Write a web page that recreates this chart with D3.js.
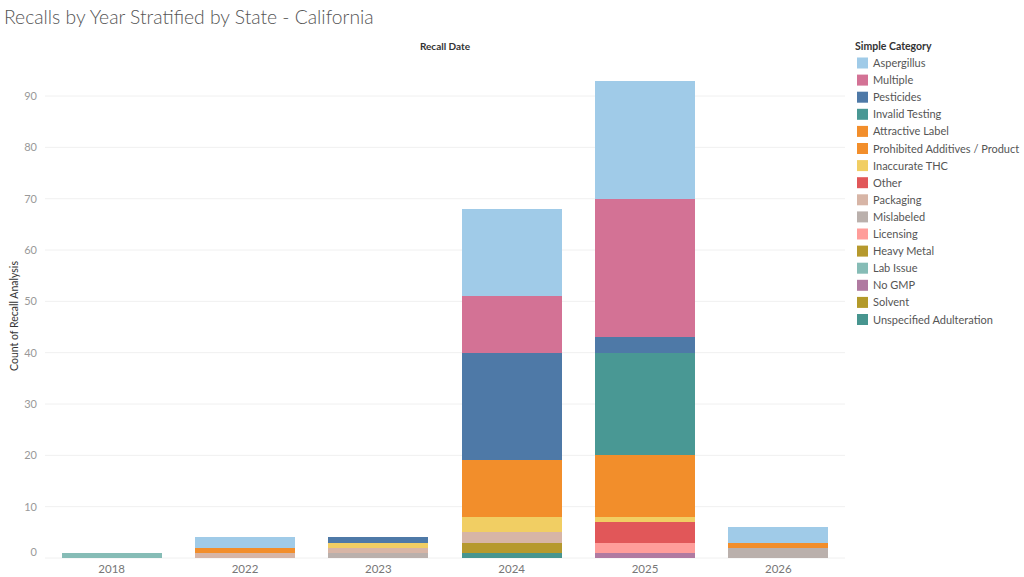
<!DOCTYPE html>
<html>
<head>
<meta charset="utf-8">
<script src="https://cdn.jsdelivr.net/npm/d3@7"></script>
<style>
  body { margin: 0; background: #fff; font-family: Lato, "Open Sans", sans-serif; }
</style>
</head>
<body>
<div id="chart"></div>
<script>
// Chart data
const years = ['2018', '2022', '2023', '2024', '2025', '2026'];
const categories = [
    'Aspergillus', 'Multiple', 'Pesticides', 'Invalid Testing', 'Attractive Label',
    'Prohibited Additives / Product', 'Inaccurate THC', 'Other', 'Packaging', 'Mislabeled',
    'Licensing', 'Heavy Metal', 'Lab Issue', 'No GMP', 'Solvent', 'Unspecified Adulteration'
];
const colors = [
    '#a0cbe8', '#d37295', '#4e79a7', '#499894', '#f28e2b',
    '#f28e2b', '#f1ce63', '#e15759', '#d7b5a6', '#bab0ac',
    '#ff9d9a', '#b6992d', '#86bcb6', '#b07aa1', '#b39a2a', '#47958f'
];
// counts per category, in the order of years
const aspergillus = [0, 2, 0, 17, 23, 3];
const multiple = [0, 0, 0, 11, 27, 0];
const pesticides = [0, 0, 1, 21, 3, 0];
const invalidTesting = [0, 0, 0, 0, 20, 0];
const attractiveLabel = [0, 1, 0, 10, 11, 1];
const prohibitedAdditives = [0, 0, 0, 1, 1, 0];
const inaccurateTHC = [0, 0, 1, 3, 1, 0];
const other = [0, 0, 0, 0, 4, 0];
const packaging = [0, 1, 1, 2, 0, 0];
const mislabeled = [0, 0, 1, 0, 0, 2];
const licensing = [0, 0, 0, 0, 2, 0];
const heavyMetal = [0, 0, 0, 2, 0, 0];
const labIssue = [1, 0, 0, 0, 0, 0];
const noGMP = [0, 0, 0, 0, 1, 0];
const solvent = [0, 0, 0, 0, 0, 0];
const unspecifiedAdulteration = [0, 0, 0, 1, 0, 0];
const yTicks = [0, 10, 20, 30, 40, 50, 60, 70, 80, 90];

const seriesValues = [
    aspergillus, multiple, pesticides, invalidTesting, attractiveLabel,
    prohibitedAdditives, inaccurateTHC, other, packaging, mislabeled,
    licensing, heavyMetal, labIssue, noGMP, solvent, unspecifiedAdulteration
];

// table for d3.stack
const table = years.map((yr, i) => {
    const row = { year: yr };
    categories.forEach((c, j) => { row[c] = seriesValues[j][i]; });
    return row;
});

const width = 1024;
const height = 577;
const plot = { left: 45, right: 845, top: 62, bottom: 558 };

const svg = d3.select('#chart')
    .append('svg')
    .attr('width', width)
    .attr('height', height);

// Title
svg.append('text')
    .attr('x', 4)
    .attr('y', 24)
    .attr('font-size', 19.3)
    .attr('font-weight', 300)
    .attr('fill', '#555')
    .text('Recalls by Year Stratified by State - California');

svg.append('text')
    .attr('x', 445)
    .attr('y', 50)
    .attr('text-anchor', 'middle')
    .attr('font-size', 10)
    .attr('font-weight', 'bold')
    .attr('fill', '#333')
    .text('Recall Date');

const x = d3.scaleBand()
    .domain(years)
    .range([plot.left, plot.right])
    .paddingInner(0.25)
    .paddingOuter(0.125);

const y = d3.scaleLinear()
    .domain([0, (plot.bottom - plot.top) / 5.133])
    .range([plot.bottom, plot.top]);

// Gridlines
svg.append('g')
    .selectAll('line')
    .data(yTicks)
    .enter()
    .append('line')
    .attr('x1', plot.left)
    .attr('x2', plot.right)
    .attr('y1', d => y(d))
    .attr('y2', d => y(d))
    .attr('stroke', '#f0f0f0')
    .attr('stroke-width', 1);

// Y axis
const yAxis = svg.append('g')
    .attr('transform', `translate(${plot.left},0)`)
    .call(d3.axisLeft(y).tickValues(yTicks).tickSize(0).tickPadding(8));
yAxis.select('.domain').remove();
yAxis.selectAll('text')
    .attr('font-family', 'Lato, "Open Sans", sans-serif')
    .attr('font-size', 11)
    .attr('fill', '#999')
    .attr('dy', d => d === 0 ? '-0.25em' : '0.32em');

svg.append('text')
    .attr('transform', `translate(18,${(plot.top + plot.bottom) / 2 + 6}) rotate(-90)`)
    .attr('text-anchor', 'middle')
    .attr('font-size', 10.5)
    .attr('fill', '#333')
    .text('Count of Recall Analysis');

// X axis
const xAxis = svg.append('g')
    .attr('transform', `translate(0,${plot.bottom})`)
    .call(d3.axisBottom(x).tickSize(0).tickPadding(7));
xAxis.select('.domain').remove();
xAxis.selectAll('text')
    .attr('font-family', 'Lato, "Open Sans", sans-serif')
    .attr('font-size', 11.5)
    .attr('fill', '#777');

// Stacked bars: first legend item sits on top
const stack = d3.stack().keys(categories.slice().reverse());
const stacked = stack(table);
const colorOf = d3.scaleOrdinal().domain(categories).range(colors);

svg.append('g')
    .selectAll('g')
    .data(stacked)
    .enter()
    .append('g')
    .attr('fill', d => colorOf(d.key))
    .selectAll('rect')
    .data(d => d.filter(s => s[1] > s[0]))
    .enter()
    .append('rect')
    .attr('x', d => x(d.data.year))
    .attr('width', x.bandwidth())
    .attr('y', d => y(d[1]))
    .attr('height', d => y(d[0]) - y(d[1]))
    .attr('shape-rendering', 'crispEdges');

// Legend
const legend = svg.append('g').attr('transform', 'translate(855,0)');
legend.append('text')
    .attr('x', 0)
    .attr('y', 50)
    .attr('font-size', 10.5)
    .attr('font-weight', 'bold')
    .attr('fill', '#333')
    .text('Simple Category');

const items = legend.selectAll('g.item')
    .data(categories)
    .enter()
    .append('g')
    .attr('class', 'item')
    .attr('transform', (d, i) => `translate(0,${57.5 + i * 17.1})`);
items.append('rect')
    .attr('x', 2)
    .attr('width', 11)
    .attr('height', 11)
    .attr('fill', d => colorOf(d));
items.append('text')
    .attr('x', 18)
    .attr('y', 9.5)
    .attr('font-size', 11)
    .attr('fill', '#555')
    .text(d => d);
</script>
</body>
</html>
